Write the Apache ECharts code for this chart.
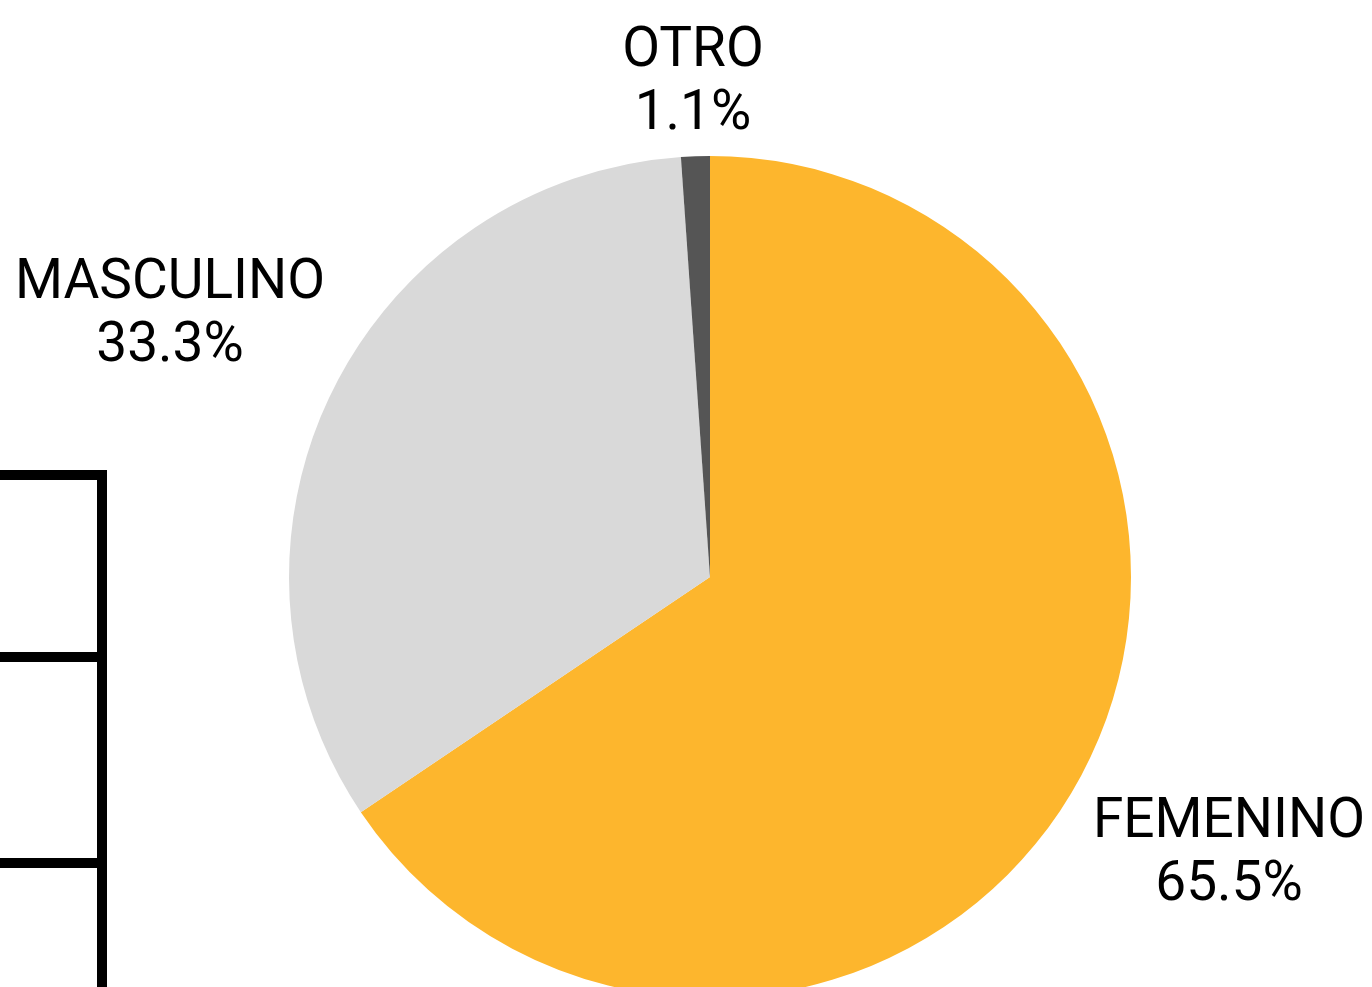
<!DOCTYPE html>
<html>
<head>
<meta charset="utf-8">
<script src="https://cdn.jsdelivr.net/npm/echarts@6/dist/echarts.min.js"></script>
<style>
	html, body { margin: 0; padding: 0; background: #fff; }
	#chart { width: 1372px; height: 987px; }
</style>
</head>
<body>
<div id="chart"></div>
<script>
// 数据
const categories = ['FEMENINO', 'MASCULINO', 'OTRO'];
const values = [65.5, 33.3, 1.1];
const colors = ['#FDB62D', '#D9D9D9', '#555555'];

// 标签中心位置 (px)
const labelPos = [
	[1229, 855],
	[170, 316],
	[693, 84]
];

let myChart = echarts.init(document.getElementById('chart'));

myChart.setOption({
	animation: false,
	backgroundColor: '#fff',
	graphic: [
		{
			type: 'polyline',
			shape: { points: [[-10, 475], [102, 475], [102, 1000]] },
			style: { stroke: '#000', lineWidth: 10, fill: null, lineJoin: 'miter' }
		},
		{
			type: 'line',
			shape: { x1: -10, y1: 657, x2: 107, y2: 657 },
			style: { stroke: '#000', lineWidth: 10 }
		},
		{
			type: 'line',
			shape: { x1: -10, y1: 863, x2: 107, y2: 863 },
			style: { stroke: '#000', lineWidth: 10 }
		}
	],
	series: [
		{
			type: 'pie',
			center: [710, 577],
			radius: 421,
			startAngle: 90,
			clockwise: true,
			data: categories.map((name, i) => ({
				name: name,
				value: values[i],
				itemStyle: { color: colors[i] }
			})),
			label: {
				show: true,
				position: 'outside',
				formatter: '{b}\n{c}%',
				fontFamily: 'Roboto',
				fontSize: 55,
				lineHeight: 63,
				color: '#000',
				align: 'center',
				overflow: 'none',
				width: 400
			},
			labelLine: { show: false },
			labelLayout: function(params) {
				const p = labelPos[params.dataIndex];
				return { x: p[0], y: p[1], align: 'center', verticalAlign: 'middle' };
			},
			emphasis: { disabled: true }
		}
	]
});
</script>
</body>
</html>
